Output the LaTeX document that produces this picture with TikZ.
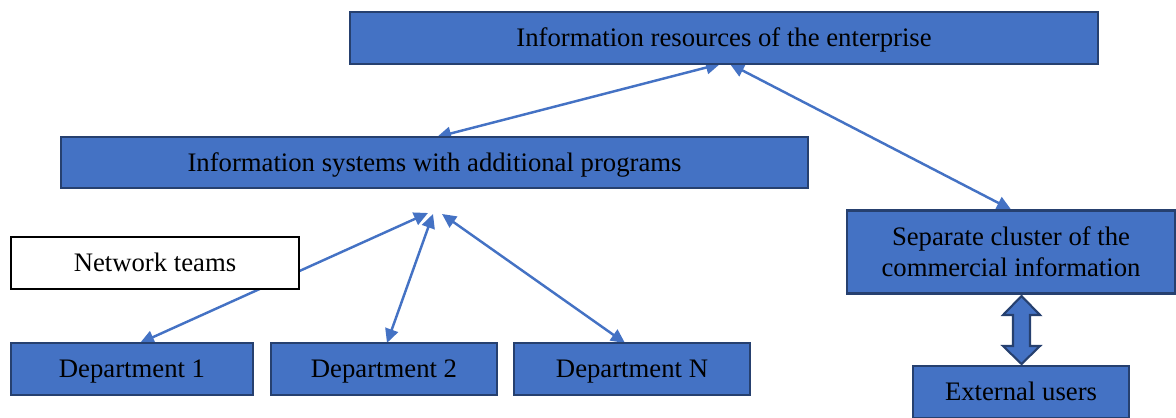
\documentclass[tikz,border=0pt]{standalone}
\usepackage{fontspec}
\setmainfont{Liberation Serif}
\usetikzlibrary{arrows.meta, backgrounds}
\definecolor{boxblue}{HTML}{4472C4}
\definecolor{boxline}{HTML}{26406F}
\tikzset{>={Triangle[length=8pt,width=7.5pt]}}
\tikzset{
  bluebox/.style={draw=boxline, line width=1.2pt, fill=boxblue, inner sep=0pt,
    font=\fontsize{15.2}{17.5}\selectfont, text height=10pt, text depth=0pt},
  whitebox/.style={bluebox, draw=black, line width=0.7pt, fill=white},
  link/.style={<->, draw=boxblue, line width=1.4pt}
}

\begin{document}
\begin{tikzpicture}[x=0.02cm, y=-0.02cm]
    \useasboundingbox (0,0) rectangle (1176,418);
    % boxes
    \node[bluebox, minimum width=14.96cm, minimum height=1.04cm] (IR) at (724,38) {Information resources of the enterprise};
    \node[bluebox, minimum width=14.94cm, minimum height=1.02cm] (IS) at (434.5,162.5) {Information systems with additional programs};
    \node[whitebox, minimum width=5.76cm, minimum height=1.04cm] (NT) at (155,263) {Network teams};
    \node[bluebox, minimum width=4.84cm, minimum height=1.04cm] (D1) at (132,369) {Department 1};
    \node[bluebox, minimum width=4.52cm, minimum height=1.04cm] (D2) at (384,369) {Department 2};
    \node[bluebox, minimum width=4.72cm, minimum height=1.04cm] (DN) at (632,369) {Department N};
    \node[bluebox, text height=, text depth=, align=center, minimum width=6.56cm, minimum height=1.66cm] (SC) at (1011,252) {Separate cluster of the\\commercial information};
    \node[bluebox, minimum width=4.32cm, minimum height=1.04cm] (EU) at (1021,392) {External users};
    % ends of the links
    \coordinate (IRa) at (720,64);
    \coordinate (IRb) at (730,64);
    \coordinate (ISa) at (437,137);
    \coordinate (H1) at (428,213);
    \coordinate (H2) at (433,214);
    \coordinate (H3) at (442,214);
    \coordinate (D1a) at (140,343);
    \coordinate (D2a) at (387,343);
    \coordinate (DNa) at (625,343);
    \begin{pgfonlayer}{background}
    \draw[link] (ISa) -- (IRa);
    \draw[link] (IRb) -- (SC.north);
    \draw[link] (D1a) -- (H1);
    \draw[link] (D2a) -- (H2);
    \draw[link] (DNa) -- (H3);
    \end{pgfonlayer}
    % fat double arrow
    \draw[draw=boxline, line width=1.2pt, fill=boxblue]
      (1021.5,296) -- (1040,315) -- (1030,315) -- (1030,346) -- (1040,346)
      -- (1021.5,364) -- (1003,346) -- (1013,346) -- (1013,315) -- (1003,315) -- cycle;
\end{tikzpicture}
\end{document}
